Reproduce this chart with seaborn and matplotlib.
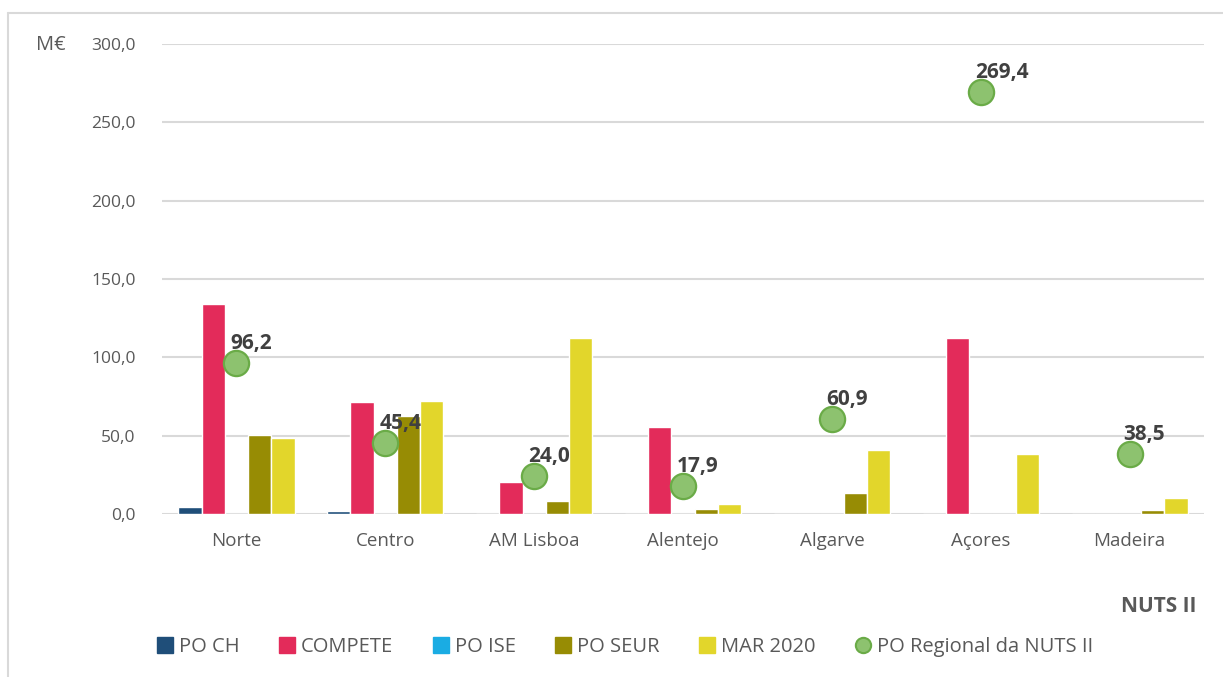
import matplotlib
matplotlib.use("Agg")
import matplotlib.pyplot as plt
from matplotlib.lines import Line2D
from matplotlib.ticker import FuncFormatter
import seaborn as sns
import pandas as pd
import numpy as np

REGIONS = ["Norte", "Centro", "AM Lisboa", "Alentejo", "Algarve", "Açores", "Madeira"]
PO_CH = [4.3, 1.9, 0, 0, 0, 0, 0]
COMPETE = [134.0, 71.5, 20.7, 55.8, 0, 112.3, 0]
PO_ISE = [0, 0, 0, 0, 0, 0, 0]
PO_SEUR = [50.6, 62.5, 8.1, 3.0, 13.4, 0, 2.6]
MAR_2020 = [48.7, 72.1, 112.1, 6.2, 40.8, 38.3, 10.2]
PO_REGIONAL = [96.2, 45.4, 24.0, 17.9, 60.9, 269.4, 38.5]

SERIES = {
    "PO CH": PO_CH,
    "COMPETE": COMPETE,
    "PO ISE": PO_ISE,
    "PO SEUR": PO_SEUR,
    "MAR 2020": MAR_2020,
}
COLORS = {
    "PO CH": "#1F4E79",
    "COMPETE": "#E32B5A",
    "PO ISE": "#1AACE3",
    "PO SEUR": "#978C04",
    "MAR 2020": "#E2D62B",
}
POINT_FILL = "#8DC26F"
POINT_EDGE = "#6AAB47"
TEXT_GRAY = "#595959"

sns.set_style("white")
plt.rcParams["font.family"] = ["Open Sans", "DejaVu Sans"]

rows = []
for name, vals in SERIES.items():
    for reg, v in zip(REGIONS, vals):
        rows.append({"region": reg, "series": name, "value": v})
df = pd.DataFrame(rows)

fig = plt.figure(figsize=(12.23, 6.77), dpi=100)
ax = fig.add_axes([0.1325, 0.2408, 0.8520, 0.6942])

sns.barplot(
    data=df, x="region", y="value", hue="series", order=REGIONS,
    hue_order=list(SERIES), palette=COLORS, width=0.78, gap=0,
    saturation=1, legend=False, ax=ax, zorder=3,
)

xpos = np.arange(len(REGIONS))
sns.scatterplot(
    x=xpos, y=PO_REGIONAL, s=330, color=POINT_FILL, edgecolor=POINT_EDGE,
    linewidth=1.6, ax=ax, zorder=5, legend=False,
)
for x, v in zip(xpos, PO_REGIONAL):
    ax.annotate(
        f"{v:.1f}".replace(".", ","), (x, v), xytext=(-6, 9),
        textcoords="offset pixels", ha="left", va="bottom",
        fontsize=15, fontweight="bold", color="#404040", zorder=6,
    )

ax.set_ylim(0, 300)
ax.set_xlim(-0.5, len(REGIONS) - 0.5)
ax.set_yticks(np.arange(0, 301, 50))
ax.yaxis.set_major_formatter(FuncFormatter(lambda v, _: f"{v:.1f}".replace(".", ",")))
ax.grid(axis="y", color="#D9D9D9", linewidth=1.5, zorder=0)
ax.set_axisbelow(True)
for s in ax.spines.values():
    s.set_visible(False)
ax.tick_params(axis="y", length=0, pad=19, labelsize=12.5, labelcolor=TEXT_GRAY)
ax.tick_params(axis="x", length=0, pad=13, labelsize=13.5, labelcolor=TEXT_GRAY)
ax.set_xlabel("")
ax.set_ylabel("")

fig.text(51 / 1223, 1 - 45 / 677, "M€", fontsize=14.5, color=TEXT_GRAY,
         ha="center", va="center")
fig.text(1196 / 1223, 1 - 607 / 677, "NUTS II", fontsize=15, color=TEXT_GRAY,
         fontweight="bold", ha="right", va="center")

# light frame on the left and top edges
fig.add_artist(Line2D([8 / 1223, 8 / 1223], [0, 1 - 13 / 677], transform=fig.transFigure,
                      color="#D9D9D9", linewidth=1.5))
fig.add_artist(Line2D([8 / 1223, 1], [1 - 13 / 677, 1 - 13 / 677], transform=fig.transFigure,
                      color="#D9D9D9", linewidth=1.5))

handles = [Line2D([], [], marker="s", linestyle="", markersize=11,
                  markerfacecolor=COLORS[n], markeredgecolor=COLORS[n], label=n)
           for n in SERIES]
handles.append(Line2D([], [], marker="o", linestyle="", markersize=11,
                      markerfacecolor=POINT_FILL, markeredgecolor=POINT_EDGE,
                      markeredgewidth=1.5, label="PO Regional da NUTS II"))
fig.legend(handles=handles, loc="center", bbox_to_anchor=(625 / 1223, 1 - 647 / 677),
           ncol=6, frameon=False, handlelength=0.8, handletextpad=0.3,
           columnspacing=1.95, fontsize=14.5, labelcolor=TEXT_GRAY)

fig.savefig("out.png", dpi=100)
